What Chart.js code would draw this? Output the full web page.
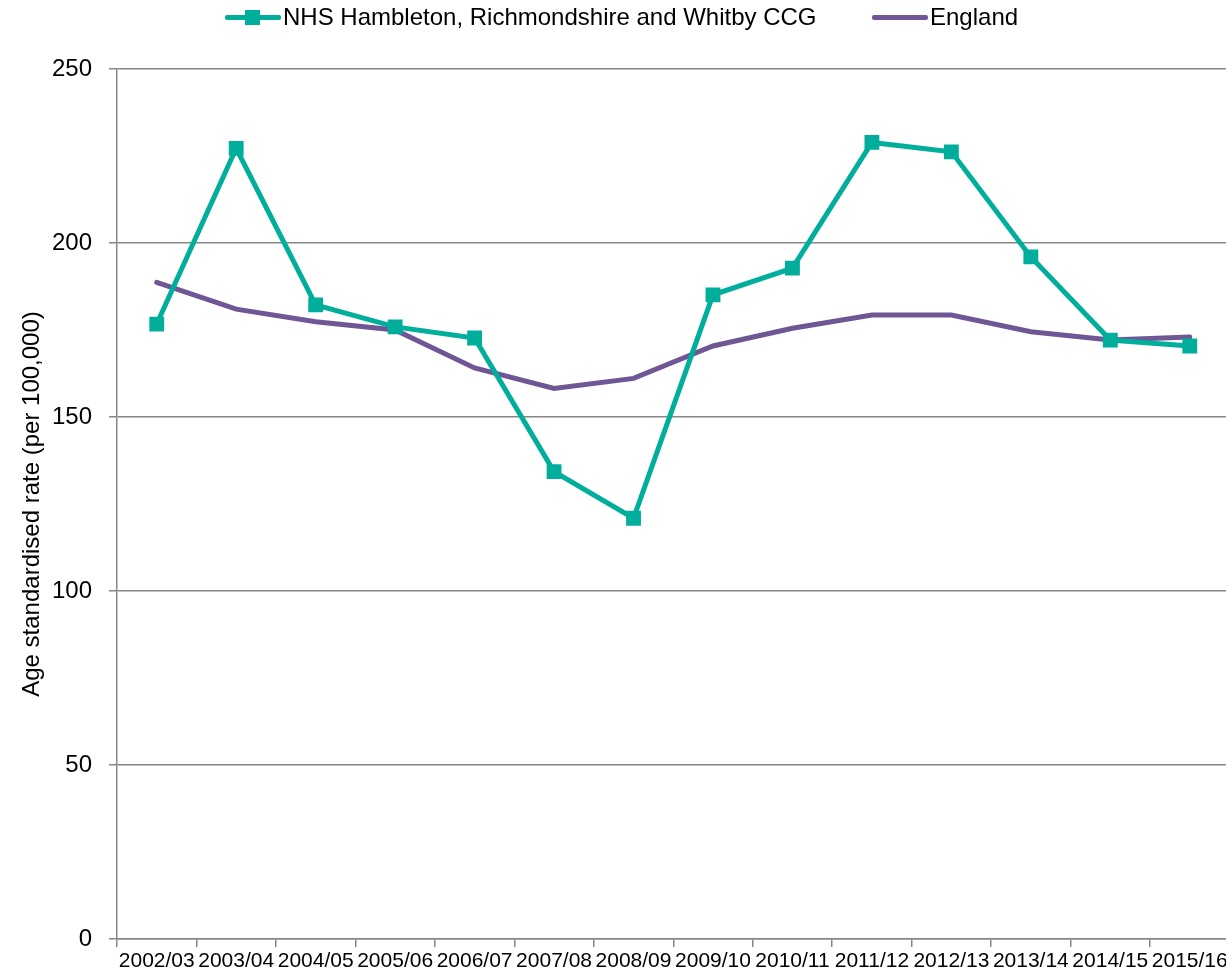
<!DOCTYPE html>
<html>
<head>
<meta charset="utf-8">
<title>Age standardised rate</title>
<script src="https://cdn.jsdelivr.net/npm/chart.js@4"></script>
<style>
    html, body { margin: 0; padding: 0; background: #fff; overflow: hidden; }
    #wrap { position: relative; width: 1240px; height: 975px; }
    #chart { display: block; }
    #legend { position: absolute; left: 0; top: 0; width: 1226px; height: 36px;
              font-family: "Liberation Sans", Arial, sans-serif; font-size: 24px; color: #000; }
    .item { position: absolute; top: 3px; height: 28px; line-height: 28px; white-space: nowrap; }
    .swatch { position: absolute; top: 12px; width: 56px; height: 5px; border-radius: 2px; }
    .mark { position: absolute; top: 7px; left: 20px; width: 15px; height: 15px; }
    .item span.txt { position: absolute; left: 58px; top: 0; }
</style>
</head>
<body>
<div id="wrap">
    <canvas id="chart" width="1240" height="975"></canvas>
    <div id="legend"></div>
</div>
<script>
// Age standardised rate (per 100,000), by financial year

/* ---------------- DATA ---------------- */
const years = ["2002/03", "2003/04", "2004/05", "2005/06", "2006/07", "2007/08", "2008/09",
               "2009/10", "2010/11", "2011/12", "2012/13", "2013/14", "2014/15", "2015/16"];
const ccgRate = [176.7, 227.2, 182.2, 175.9, 172.7, 134.3, 120.9,
                 185.1, 192.8, 228.9, 226.2, 196.0, 172.1, 170.4];
const englandRate = [188.7, 181.0, 177.4, 175.0, 164.1, 158.2, 161.1,
                     170.4, 175.5, 179.3, 179.3, 174.5, 172.1, 173.0];
const yTicks = [0, 50, 100, 150, 200, 250];

const ccgName = "NHS Hambleton, Richmondshire and Whitby CCG";
const englandName = "England";

const teal = "#00AE9B";
const purple = "#6F5695";
const grey = "#878787";
const fontFamily = '"Liberation Sans", Arial, sans-serif';

/* ---------------- CHART ---------------- */
const chart = new Chart(document.getElementById("chart"), {
    type: 'line',
    data: {
        labels: years,
        datasets: [{
            label: ccgName,
            data: ccgRate,
            borderColor: teal,
            backgroundColor: teal,
            borderWidth: 5,
            pointStyle: 'rect',
            pointRadius: 10.5,
            pointBorderWidth: 0,
            tension: 0,
            fill: false
        }, {
            label: englandName,
            data: englandRate,
            borderColor: purple,
            backgroundColor: purple,
            borderWidth: 5,
            borderCapStyle: 'round',
            pointRadius: 0,
            tension: 0,
            fill: false
        }]
    },
    options: {
        responsive: false,
        animation: false,
        layout: { padding: { top: 69, right: 0, bottom: 1, left: 0 } },
        plugins: {
            legend: { display: false },
            tooltip: { enabled: false }
        },
        scales: {
            x: {
                offset: true,
                afterFit: (scale) => {
                    scale.paddingLeft = 0;
                    scale.paddingRight = 0;
                    scale.height = 35;
                },
                grid: {
                    offset: true,
                    drawOnChartArea: false,
                    drawTicks: true,
                    tickLength: 8,
                    color: grey,
                    lineWidth: 1.5
                },
                border: { color: grey, width: 1.5 },
                ticks: {
                    autoSkip: false,
                    maxRotation: 0,
                    padding: 2,
                    color: '#000',
                    font: { family: fontFamily, size: 21 }
                }
            },
            y: {
                min: 0,
                max: 250,
                afterBuildTicks: (scale) => {
                    scale.ticks = yTicks.map(v => ({ value: v }));
                },
                afterFit: (scale) => { scale.width = 117; },
                grid: {
                    color: grey,
                    lineWidth: 1.5,
                    tickLength: 8
                },
                border: { color: grey, width: 1.5 },
                ticks: {
                    padding: 17,
                    color: '#000',
                    font: { family: fontFamily, size: 24 }
                },
                title: {
                    display: true,
                    text: 'Age standardised rate (per 100,000)',
                    color: '#000',
                    padding: { top: 18, bottom: 0 },
                    font: { family: fontFamily, size: 24 }
                }
            }
        }
    }
});

/* ---------------- LEGEND ---------------- */
const legendLeft = [225, 872];
const legend = document.getElementById("legend");
chart.data.datasets.forEach((ds, i) => {
    const item = document.createElement("div");
    item.className = "item";
    item.style.left = legendLeft[i] + "px";
    let html = `<div class="swatch" style="background:${ds.borderColor}"></div>`;
    if (ds.pointStyle === 'rect') {
        html += `<div class="mark" style="background:${ds.borderColor}"></div>`;
    }
    html += `<span class="txt">${ds.label}</span>`;
    item.innerHTML = html;
    legend.appendChild(item);
});
</script>
</body>
</html>
